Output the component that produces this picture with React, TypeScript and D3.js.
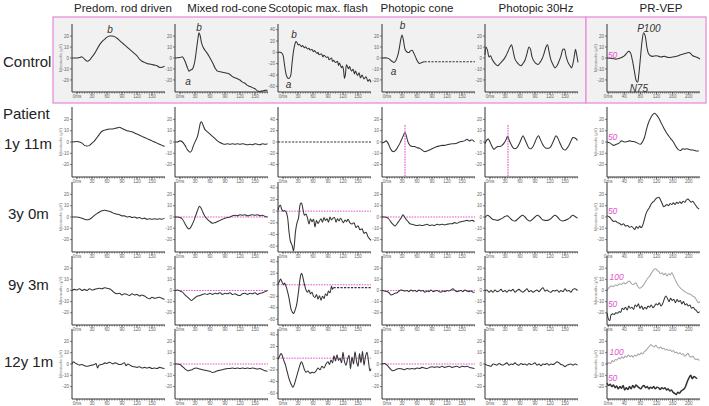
import React from 'react';
import * as d3 from 'd3';

type Pt = [number, number];

// ---- labels & ticks ----
const columnTitles = ['Predom. rod driven', 'Mixed rod-cone', 'Scotopic max. flash', 'Photopic cone', 'Photopic 30Hz', 'PR-VEP'];
const rowLabels = ['Control', 'Patient', '1y 11m', '3y 0m', '9y 3m', '12y 1m'];
const ergTicksX = [0, 30, 60, 90, 120, 150];
const vepTicksX = [0, 40, 80, 120, 160, 200];
const ampTicks = [-20, -10, 0, 10, 20];
const scotTicks = [-60, -40, -20, 0, 20, 40];
const scotTicksFlat = [-40, -20, 0, 20, 40];

// ---- control traces (ms, µV) ----
const ctrlRod: Pt[] = [[-10,0],[0,0],[5,0.5],[10,1],[15,-1],[20,-3],[25,-2],[30,1],[35,4],[40,8],[45,12],[50,15],[55,17],[60,19],[65,20],[70,20],[75,19.5],[80,18],[85,16],[90,14],[95,12],[100,10],[105,8],[110,6],[115,4],[120,2],[125,-1],[130,-3],[135,-4],[140,-5],[145,-5.5],[150,-6],[155,-6.5],[160,-7],[165,-8.5],[170,-8.5],[175,-7.5]];
const ctrlMixed: Pt[] = [[-10,0],[0,0.5],[5,1],[10,-3],[15,-9],[18,-12],[21,-11],[24,-10.5],[27,-8],[30,-2],[33,8],[36,18],[38,23],[40,21],[43,14],[46,10],[50,7],[55,4],[60,0],[65,-4],[70,-9],[75,-12],[80,-12.5],[85,-13],[90,-13.5],[95,-14],[100,-15],[105,-17],[110,-18],[115,-19],[120,-20],[125,-22],[130,-23],[135,-25],[140,-26],[145,-27],[150,-28],[155,-30],[160,-30.5],[165,-30],[170,-29.5],[175,-29.5]];
const ctrlScot: Pt[] = [[-10,0],[-6,0],[-3,-1],[0,-5],[3,-22],[6,-38],[9,-45],[12,-46],[15,-42],[18,-20],[21,2],[24,15],[26,19],[28,17],[31,13],[33,14],[37,10],[39,12],[43,8],[45,10],[49,6],[52,7],[54,4],[58,5],[61,1],[63,3],[68,-2],[70,0],[72,-4],[77,-3],[80,-8],[82,-5],[87,-9],[90,-8],[92,-13],[97,-10],[99,-16],[101,-14],[105,-18],[109,-16],[111,-23],[113,-19],[117,-27],[119,-24],[121,-31],[123,-46],[125,-38],[127,-22],[131,-29],[133,-25],[137,-33],[140,-30],[143,-38],[145,-33],[149,-41],[152,-36],[155,-45],[158,-40],[162,-47],[166,-43],[170,-51],[173,-48],[176,-53]];
const ctrlCone: Pt[] = [[-10,0],[0,0],[5,-1],[10,-3],[14,-4],[18,-2],[22,3],[25,10],[28,18],[30,21],[33,16],[36,8],[40,5.5],[44,5],[47,6.5],[50,7],[53,5],[57,1],[61,-3],[65,-5],[70,-4],[75,-3.5]];
const ctrlConeTail: Pt[] = [[75,-3.5],[176,-3.5]];
const ctrlFlicker: Pt[] = [[-10,3],[-8,10],[-5,7],[-2,1],[1,2],[4,-1],[8,-4],[12,-6],[16,-7],[20,-5],[24,-3],[28,-1],[32,2],[36,6],[40,10],[43,12],[46,7],[50,-1],[54,-4],[58,-6],[62,-7],[66,-5],[70,-2],[74,4],[78,10],[81,8],[84,1],[88,-3],[92,-5],[96,-6],[100,-4],[104,-1],[108,4],[112,10],[115,12],[118,6],[122,-2],[126,-6],[130,-9],[134,-7],[138,-3],[142,2],[146,8],[149,8],[152,2],[156,-4],[160,-7],[163,-9],[166,-5],[169,3],[171,8],[173,4],[176,-4]];
const ctrlVep: Pt[] = [[-3,0],[10,-0.5],[20,-1],[30,0],[40,2],[45,4],[50,6],[55,5],[60,-2],[65,-12],[70,-21],[73,-22],[76,-15],[80,0],[84,15],[88,23],[92,20],[96,10],[100,4],[105,2],[110,1.5],[120,2],[130,1],[140,1.5],[150,0.5],[160,1],[170,1.5],[180,3],[190,4],[200,5],[205,4],[210,2],[218,1],[224,0],[228,-1]];

// ---- patient 1y 11m ----
const r1Rod: Pt[] = [[-10,0],[0,0.5],[5,0],[10,-1],[15,-3],[20,-3.5],[25,-3],[30,-1],[35,1],[40,4],[45,7],[50,9.5],[55,10.5],[60,11],[65,11.5],[70,11.5],[75,12],[80,12.5],[85,13],[90,12],[95,11],[100,10],[105,9.5],[110,9],[115,8],[120,7],[125,6],[130,5],[135,4],[140,3],[145,2],[150,1],[155,0],[160,-1],[165,-2],[170,-3],[175,-4]];
const r1Mixed: Pt[] = [[-10,0],[-5,0],[0,1],[5,0],[10,-3],[15,-7],[20,-9],[23,-8],[27,-3],[31,1],[35,5],[38,11],[41,17],[43,18],[46,15],[50,11],[55,9],[60,7],[65,5],[70,3],[75,1],[80,-0.5],[85,-1.5],[90,-2],[95,-1.5],[100,-2],[105,-1.5],[110,-2],[115,-1.5],[120,-2],[125,-1.5],[130,-2],[135,-2.5],[140,-2],[145,-2.5],[150,-1.5],[155,-2],[160,-2.5],[165,-1.5],[170,-2],[175,-1.5]];
const r1ScotFlat: Pt[] = [[-10,0],[176,0]];
const r1Cone: Pt[] = [[-10,-1],[-5,0],[-2,1],[2,-1],[6,-5],[10,-8],[14,-8.5],[18,-7],[22,-4],[26,-1],[30,3],[33,6],[36,8.5],[39,5],[42,0],[46,-3],[50,-4],[55,-4],[60,-5],[65,-5.5],[70,-7],[75,-8.5],[80,-8],[85,-7],[90,-6],[95,-5],[100,-4],[105,-3.5],[110,-3],[115,-3],[120,-2.5],[125,-2],[130,-1.5],[135,-1.5],[140,-1],[145,0],[150,0.5],[155,1],[160,2.5],[165,1],[170,2],[175,0]];
const r1Flicker: Pt[] = [[-10,-1.5],[-6,2],[-3,2.5],[0,0],[4,-4],[8,-6.5],[12,-5],[16,-4],[20,-4],[24,-3],[28,-1],[32,2],[35,5],[38,2],[42,-2],[46,-5],[50,-6],[54,-5],[58,-2],[62,2],[66,5.5],[70,2],[74,-2],[78,-5.5],[82,-6],[86,-4],[90,0],[94,4],[97,5.5],[100,3],[104,-1],[108,-4],[112,-5.5],[116,-5.5],[120,-5],[124,-2],[128,2],[132,5.5],[135,4],[139,0],[143,-4],[147,-6.5],[151,-7],[155,-5],[159,-2],[163,2],[166,4],[170,3.5],[175,1.5]];
const r1Vep: Pt[] = [[-3,0],[5,-1],[13,-3],[20,-2],[27,-1],[33,1],[40,0],[47,0.5],[53,1],[60,0.5],[67,0],[73,-1],[80,-2],[85,0],[90,4],[95,11],[100,17],[105,21],[110,24],[115,25.5],[120,24],[125,21.5],[130,18],[135,14.5],[140,11],[145,8],[150,5.5],[155,3],[160,1],[165,-2],[170,-5],[175,-7],[180,-7.5],[185,-6],[190,-6.5],[195,-6],[200,-6.5],[205,-7],[210,-7],[215,-7.5],[220,-8],[225,-8]];
const r1ConePeakT = 36;
const r1FlickerPeakT = 35;

// ---- patient 3y 0m ----
const r2Rod: Pt[] = [[-10,0],[0,0],[5,-0.5],[10,-1],[15,-2],[20,-2.5],[25,-2],[30,-0.5],[35,1.5],[40,3],[45,4.5],[50,5.5],[55,6],[60,5.5],[65,5],[70,4],[75,3],[80,2.5],[85,2],[90,1],[95,1],[100,0],[105,0.5],[110,-0.5],[115,0],[120,-1],[125,-0.5],[130,-1.5],[135,-1],[140,-2],[145,-1.5],[150,-2],[155,-1.5],[160,-2],[165,-1.5],[170,-2],[175,-1]];
const r2Mixed: Pt[] = [[-10,0],[-5,0],[0,-0.5],[5,-2],[10,-6],[14,-9],[17,-10.5],[20,-10],[24,-7],[28,-3],[32,2],[36,7],[39,9.5],[42,8],[46,4],[50,0.5],[55,-2],[60,-4],[65,-5.5],[70,-5],[75,-4],[80,-3],[85,-2],[90,-1],[95,-0.5],[100,0],[105,1],[110,1.5],[115,1],[120,2],[125,1.5],[130,2],[135,1],[140,1.5],[145,2],[150,1.5],[155,2],[160,1],[165,1.5],[170,0.5],[175,0]];
const r2Scot: Pt[] = [[-10,2],[-7,9],[-5,10],[-3,4],[0,0],[3,1],[6,-1],[9,-10],[12,-35],[15,-52],[18,-58],[21,-68],[23,-55],[25,-35],[28,-20],[31,-12],[33,5],[35,13],[37,14],[40,3],[43,-7],[46,-5],[49,-12],[52,-22],[55,-13],[58,-18],[61,-14],[64,-27],[67,-16],[70,-21],[73,-17],[76,-13],[79,-19],[82,-11],[85,-16],[88,-13],[91,-19],[94,-10],[97,-15],[100,-12],[103,-11],[106,-19],[109,-13],[112,-17],[115,-12],[118,-16],[121,-20],[124,-15],[127,-18],[130,-14],[134,-20],[138,-22],[142,-20],[146,-28],[150,-25],[154,-32],[158,-30],[162,-38],[166,-36],[170,-44],[173,-47],[176,-50]];
const r2Cone: Pt[] = [[-10,0],[-5,0],[0,-0.5],[4,-2],[8,-4.5],[12,-6.5],[16,-8],[20,-6],[24,-3.5],[28,-1],[32,2],[35,0],[38,-2],[42,-4],[46,-6],[50,-6.5],[55,-7],[60,-7.5],[65,-7],[70,-7.5],[75,-7],[80,-6.5],[85,-7.5],[90,-7],[95,-7.5],[100,-6.5],[105,-7],[110,-6.5],[115,-7],[120,-6.5],[125,-6],[130,-6],[135,-5],[140,-5.5],[145,-4.5],[150,-4],[155,-3.5],[160,-3],[165,-3.5],[170,-3],[175,-4]];
const r2Flicker: Pt[] = [[-10,-0.5],[-5,1.5],[0,0],[5,-2],[10,-2.5],[15,-3],[20,-2],[25,-1],[30,0.5],[35,1],[40,-1],[45,-3],[50,-3.5],[55,-2],[60,0],[65,1.5],[70,0],[75,-2.5],[80,-3.5],[85,-2],[90,0],[95,1.5],[100,0],[105,-2.5],[110,-3],[115,-3],[120,-2],[125,0],[130,1.5],[135,0],[140,-2.5],[145,-3.5],[150,-3],[155,-2],[160,-0.5],[165,1.5],[170,0.5],[175,-1]];
const r2Vep: Pt[] = [[-3,1],[3,0],[8,-2],[13,-4],[18,-3.5],[23,-5],[28,-5.5],[33,-7],[38,-6],[43,-8],[48,-7.5],[53,-9],[58,-8.5],[63,-10],[66,-11],[70,-8.5],[74,-10],[78,-8],[82,-9.5],[86,-7],[90,-2],[94,3],[98,6],[102,8],[106,11],[110,13],[114,14],[118,16],[122,17],[126,17.5],[130,15],[134,12],[138,9],[142,10],[146,11],[150,10],[154,12],[158,11],[162,12.5],[166,11],[170,13],[174,12],[178,13.5],[182,12],[186,14],[190,13],[194,15],[198,16],[202,14.5],[206,13],[210,14],[214,12],[218,10],[222,8],[226,7]];

// ---- patient 9y 3m ----
const r3Rod: Pt[] = [[-10,0],[-5,1],[0,0.5],[5,1.5],[10,0],[15,1],[20,0],[25,1.5],[30,0.5],[35,1],[40,1.5],[45,2],[50,1.5],[55,2.5],[60,2],[65,1.5],[70,0],[75,-2],[80,-3],[85,-2.5],[90,-4],[95,-3],[100,-3.5],[105,-4.5],[110,-3],[115,-4],[120,-3.5],[125,-5],[130,-4],[135,-5],[140,-6.5],[145,-7.5],[150,-6],[155,-7],[160,-6.5],[165,-6],[170,-7],[175,-8]];
const r3Mixed: Pt[] = [[-10,0],[-5,0.5],[0,-0.5],[5,-1.5],[10,-4],[15,-6],[20,-8],[23,-9],[26,-8],[30,-6.5],[35,-5],[40,-4.5],[45,-3.5],[50,-3],[55,-3.5],[60,-2.5],[65,-3.5],[70,-2.5],[75,-3],[80,-2],[85,-3.5],[90,-2.5],[95,-3],[100,-2],[105,-3.5],[110,-3],[115,-4],[120,-4.5],[125,-3],[130,-2.5],[135,-3.5],[140,-2.5],[145,-3],[150,-2],[155,-3.5],[160,-2.5],[165,-2],[170,-1],[175,0]];
const r3Scot: Pt[] = [[-10,1],[-7,6],[-5,10],[-3,7],[-1,3],[1,0],[3,3],[5,0],[7,-5],[9,-12],[11,-19],[13,-28],[15,-38],[17,-45],[19,-48],[21,-50],[23,-47],[25,-42],[27,-36],[29,-25],[31,-12],[33,3],[35,15],[37,20],[39,16],[41,8],[43,0],[46,-9],[49,-13],[52,-9],[55,-16],[58,-13],[61,-20],[64,-22],[67,-17],[70,-25],[73,-19],[76,-27],[79,-20],[82,-24],[85,-16],[88,-19],[91,-11],[94,-14],[97,-2],[99,-8],[101,-5]];
const r3ScotTail: Pt[] = [[101,-5],[176,-5]];
const r3Cone: Pt[] = [[-10,0],[-5,-0.5],[0,-1],[4,-2],[8,-4],[12,-3.5],[16,-2.5],[20,-2],[24,-0.5],[28,0.5],[32,0],[36,-0.5],[40,0],[44,-1],[48,0.5],[52,-0.5],[56,0],[60,-1],[64,0.5],[68,-0.5],[72,0],[76,-1.5],[80,-0.5],[84,-1],[88,0.5],[92,-1],[96,-0.5],[100,0],[104,-1],[108,-1.5],[112,-0.5],[116,-1],[120,0],[124,-0.5],[128,0.5],[132,1.5],[136,0],[140,-1],[144,-0.5],[148,0],[152,-1],[156,0.5],[160,-0.5],[164,-1],[168,-0.5],[172,-1.5],[175,-1.5]];
const r3Flicker: Pt[] = [[-10,-0.5],[-6,0.5],[-2,-1.5],[2,0],[6,-1.5],[10,0.5],[14,-1],[18,-0.5],[22,1],[26,-1],[30,0],[34,-1.5],[38,0.5],[42,-0.5],[46,1],[50,-1.5],[54,0],[58,1],[62,-0.5],[66,-1.5],[70,0],[74,1.5],[78,-1],[82,0],[86,-1.5],[90,-0.5],[94,0.5],[98,-1],[102,1],[106,2.5],[110,-0.5],[114,0.5],[118,-1],[122,-1.5],[126,0],[130,-0.5],[134,0.5],[138,-1.5],[142,0],[146,-1],[150,1.5],[154,-0.5],[158,0],[162,-1.5],[166,1],[170,1.5],[175,0]];
const r3Vep100: Pt[] = [[-3,0],[3,3],[8,4],[13,3.5],[18,5],[23,4.5],[28,6],[33,5.5],[38,7],[43,6],[48,7.5],[53,8.5],[58,6],[63,5.5],[68,7],[73,4],[78,2],[83,3],[88,5],[93,8],[98,11],[103,13],[108,16],[113,18.5],[118,19.5],[122,18],[126,17],[130,15],[134,16],[138,14],[142,15.5],[146,13],[150,15],[154,14],[158,16],[162,13],[166,10],[170,7],[175,4],[180,2],[185,0.5],[190,-1],[195,-2],[200,-3],[205,-3.5],[210,-5],[215,-6],[220,-9],[224,-11],[228,-10]];
const r3Vep50: Pt[] = [[-3,-20],[1,-26],[4,-27],[7,-22],[11,-21],[15,-21.5],[19,-20],[23,-20.5],[27,-19],[31,-19.5],[35,-16],[39,-17],[43,-15],[47,-17.5],[51,-14],[55,-16],[59,-15],[63,-17],[67,-13],[71,-14.5],[75,-12],[79,-16],[83,-14],[87,-17],[91,-15],[95,-16.5],[99,-14],[103,-15],[107,-13],[111,-15.5],[115,-14],[119,-12],[123,-13],[127,-11],[131,-14],[135,-12],[139,-8],[143,-5],[147,-7],[151,-10],[155,-7],[159,-9],[163,-8],[167,-11],[171,-8],[175,-10],[179,-9],[183,-12],[187,-10],[191,-13],[195,-12],[199,-14],[203,-13],[207,-16],[211,-15],[215,-17],[219,-18],[223,-20],[227,-19]];

// ---- patient 12y 1m ----
const r4Rod: Pt[] = [[-10,0],[-7,2],[-4,1],[0,0],[5,-1],[10,-0.5],[15,-1.5],[20,-2],[25,-1.5],[30,-1],[35,-0.5],[38,0.5],[41,-3.5],[44,-1],[48,-0.5],[52,0],[56,1],[60,0.5],[64,1.5],[68,1],[72,0],[76,1],[80,0.5],[85,-0.5],[90,0],[95,1],[98,-1.5],[102,0],[106,-1],[110,-2],[115,-2.5],[120,-3],[125,-2.5],[130,-3.5],[135,-3],[140,-3.5],[145,-3],[150,-4],[155,-3.5],[160,-4],[165,-3],[170,-3.5],[175,-4]];
const r4Mixed: Pt[] = [[-10,0],[-5,0],[0,-0.5],[4,-2],[8,-3.5],[12,-5],[16,-6],[20,-5.5],[24,-5],[28,-4],[32,-3.5],[36,-4],[40,-4.5],[45,-5],[50,-5.5],[55,-6],[60,-6.5],[65,-7.5],[70,-7],[75,-6],[80,-5.5],[85,-5],[90,-4.5],[95,-4],[100,-4],[105,-3.5],[110,-4],[115,-3.5],[120,-4],[125,-3.5],[130,-4],[135,-3.5],[140,-4],[145,-3.5],[150,-4],[155,-4.5],[160,-4],[165,-5],[170,-6],[175,-6.5]];
const r4Scot: Pt[] = [[-10,-2],[-7,3],[-4,8],[-2,6],[0,0],[2,-5],[5,-12],[8,-22],[11,-32],[14,-40],[17,-46],[20,-50],[23,-44],[26,-35],[29,-26],[32,-17],[35,-9],[37,-6],[40,-12],[43,-20],[46,-24],[50,-22],[54,-26],[58,-24],[62,-25],[66,-22],[70,-17],[74,-20],[78,-14],[82,-17],[86,-10],[90,-6],[93,-11],[96,-3],[99,-8],[102,4],[105,-5],[108,6],[111,-4],[114,0],[117,-8],[120,10],[123,-6],[126,-12],[129,-2],[132,5],[135,-18],[138,2],[141,-10],[144,11],[147,-5],[150,-14],[153,8],[156,-8],[159,12],[162,-12],[165,3],[168,10],[171,-6],[174,-22],[176,-18]];
const r4Cone: Pt[] = [[-10,0],[-5,0.5],[0,-1],[4,-3],[8,-5],[12,-6],[16,-5.5],[20,-4.5],[25,-4],[30,-4.5],[35,-5],[40,-4],[45,-4.5],[50,-4],[55,-4.5],[60,-3.5],[65,-4],[70,-3],[75,-3.5],[80,-4],[85,-3],[90,-2.5],[95,-3],[100,-2.5],[105,-3],[110,-2],[115,-3],[120,-2.5],[125,-2],[130,-3],[135,-2.5],[140,-2],[145,-3],[150,-2],[155,-2.5],[160,-2],[165,-3],[170,-3.5],[175,-4]];
const r4Flicker: Pt[] = [[-10,0],[-6,-1],[-2,-1.5],[2,-2],[6,0],[10,-0.5],[14,-1],[18,0.5],[22,-0.5],[26,-1],[30,0],[34,1],[38,-1],[42,0],[46,-0.5],[50,1],[54,-0.5],[58,-1],[62,0.5],[66,-0.5],[70,0],[74,-1],[78,0.5],[82,-0.5],[86,0],[90,1],[94,-1],[98,0],[102,-1.5],[106,0],[110,-0.5],[114,0.5],[118,-1],[122,0],[126,-0.5],[130,0.5],[134,2],[138,1],[142,-0.5],[146,-1],[150,-2.5],[154,-1],[158,-0.5],[162,0],[166,-1],[170,0],[175,-1]];
const r4Vep100: Pt[] = [[-3,0],[2,1],[6,0.5],[10,3],[14,2],[18,4],[22,3.5],[26,5.5],[30,4.5],[34,6.5],[38,5],[42,7],[46,6],[50,8],[54,6.5],[58,7.5],[62,6],[66,8],[70,7],[74,9],[78,8],[82,10],[86,9],[90,11],[94,12],[98,14],[102,15.5],[106,17],[110,16],[114,15],[118,16.5],[122,15],[126,14],[130,15],[134,13.5],[138,14],[142,12.5],[146,13],[150,12],[154,12.5],[158,11],[162,12],[166,10],[170,10.5],[174,9],[178,10],[182,8.5],[186,9],[190,7],[194,8],[198,9.5],[202,7],[206,6],[210,7],[214,5],[218,4],[222,4.5],[226,3]];
const r4Vep50: Pt[] = [[-3,-17],[1,-19],[5,-18],[9,-20],[13,-18.5],[17,-21],[21,-19.5],[25,-22],[29,-20],[33,-21.5],[37,-19],[41,-23],[45,-21],[49,-22.5],[53,-20],[57,-22],[61,-19],[65,-21],[69,-18.5],[73,-20],[77,-21],[81,-22],[85,-20],[89,-19],[93,-21],[97,-20],[101,-22],[105,-20.5],[109,-21.5],[113,-20],[117,-22],[121,-20.5],[125,-21],[129,-22.5],[133,-21],[137,-22],[141,-21],[145,-23],[149,-22],[153,-24],[157,-23],[161,-25],[165,-26],[169,-27],[173,-25],[177,-26],[181,-24],[185,-23],[189,-22],[193,-19],[197,-15],[201,-12],[205,-10],[209,-13],[213,-11],[217,-12],[221,-13]];

// ---- layout ----
const ROW_TOP = [24, 107, 182, 256, 329];
const ROW_H = [68, 70, 70, 69, 70];
const COL_X = [72, 175, 278, 382, 485, 607];
const COL_W = 93;
const ERG_T: [number, number] = [-10, 176];
const VEP_T: [number, number] = [-3, 228];
const PINK = '#e553d3';
const INK = '#333';
const GREY = '#a3a3a3';
const FONT = '"Liberation Sans", Arial, sans-serif';

interface Trace { data: Pt[]; color?: string; width?: number; dash?: string }
interface Note { text: string; t: number; v: number; pink?: boolean }
interface Spec {
  row: number; col: number; traces: Trace[];
  yDomain?: [number, number]; yTicks?: number[];
  zero?: boolean; marker?: number; notes?: Note[];
}

const Panel: React.FC<{ spec: Spec }> = ({ spec }) => {
  const { row, col } = spec;
  const x0 = COL_X[col];
  const top = ROW_TOP[row];
  const h = ROW_H[row];
  const isVep = col === 5;
  const x = d3.scaleLinear().domain(isVep ? VEP_T : ERG_T).range([x0, x0 + COL_W]);
  const y = d3.scaleLinear().domain(spec.yDomain || [-31, 31]).range([top + h, top]);
  const yTicks = spec.yTicks || ampTicks;
  const xTicks = isVep ? vepTicksX : ergTicksX;
  const xMax = isVep ? VEP_T[1] : ERG_T[1];
  const minor = d3.range(0, xMax, 5);
  const line = d3.line<Pt>().x(d => x(d[0])).y(d => y(d[1])).curve(d3.curveCatmullRom.alpha(0.5));
  const axisY = top + h;
  const tickFont = 4.6;

  return (
    <g>
      {spec.zero && (
        <line x1={x0} x2={x0 + COL_W} y1={y(0)} y2={y(0)} stroke={PINK} strokeWidth={1} strokeDasharray="1.6,1.1" />
      )}
      {spec.traces.map((tr, i) => (
        <path key={i} d={line(tr.data) || ''} fill="none" stroke={tr.color || INK}
          strokeWidth={tr.width || 1.05} strokeDasharray={tr.dash} strokeLinejoin="round" />
      ))}
      {spec.marker !== undefined && (
        <line x1={Math.round(x(spec.marker))} x2={Math.round(x(spec.marker))} y1={y(15)} y2={axisY}
          stroke={PINK} strokeWidth={1.1} strokeDasharray="1.6,1" />
      )}
      {/* y axis */}
      <line x1={x0} x2={x0} y1={top} y2={axisY} stroke="#333" strokeWidth={1} />
      {yTicks.map(t => (
        <g key={t}>
          <line x1={x0 - 2} x2={x0} y1={y(t)} y2={y(t)} stroke="#333" strokeWidth={0.6} />
          <text x={x0 - 3} y={y(t)} dy="0.35em" textAnchor="end" fontSize={tickFont} fill="#666" fontFamily={FONT}>{t}</text>
        </g>
      ))}
      {(col === 0 || col === 5) && (
        <text transform={`translate(${x0 - 10},${top + h / 2}) rotate(-90)`} textAnchor="middle"
          fontSize={4.2} fill="#777" fontFamily={FONT}>Microvolts (µV)</text>
      )}
      {/* x axis */}
      <line x1={x0} x2={x0 + COL_W} y1={axisY} y2={axisY} stroke="#333" strokeWidth={1} />
      {minor.map(t => (
        <line key={t} x1={x(t)} x2={x(t)} y1={axisY} y2={axisY + 1.6} stroke="#333" strokeWidth={0.5} />
      ))}
      {xTicks.map((t, i) => (
        <g key={t}>
          <line x1={x(t)} x2={x(t)} y1={axisY} y2={axisY + 2.4} stroke="#333" strokeWidth={0.6} />
          <text x={x(t)} y={axisY + 6.2} textAnchor="middle" fontSize={tickFont} fill="#666" fontFamily={FONT}>
            {i === 0 ? '0ms' : t}
          </text>
        </g>
      ))}
      {(spec.notes || []).map((n, i) => (
        <text key={i} x={x(n.t)} y={y(n.v)} dy="0.35em" textAnchor="middle" fontStyle="italic"
          fontSize={n.pink ? 8.5 : 10} fill={n.pink ? PINK : '#333'} fontFamily={FONT}>{n.text}</text>
      ))}
    </g>
  );
};

const App: React.FC = () => {
  const scotDomain: [number, number] = [-70, 50];
  const dash = '2.2,1.3';
  const specs: Spec[] = [
    { row: 0, col: 0, traces: [{ data: ctrlRod }], notes: [{ text: 'b', t: 66, v: 26 }] },
    { row: 0, col: 1, traces: [{ data: ctrlMixed }], notes: [{ text: 'b', t: 38, v: 28 }, { text: 'a', t: 16, v: -21 }] },
    { row: 0, col: 2, traces: [{ data: ctrlScot }], yDomain: scotDomain, yTicks: scotTicks, notes: [{ text: 'b', t: 22, v: 31 }, { text: 'a', t: 11, v: -57 }] },
    { row: 0, col: 3, traces: [{ data: ctrlCone }, { data: ctrlConeTail, dash }], notes: [{ text: 'b', t: 31, v: 30 }, { text: 'a', t: 13, v: -12.5 }] },
    { row: 0, col: 4, traces: [{ data: ctrlFlicker }] },
    { row: 0, col: 5, traces: [{ data: ctrlVep }], notes: [{ text: 'P100', t: 101, v: 27 }, { text: 'N75', t: 76, v: -27.5 }, { text: '50', t: 11, v: 3, pink: true }] },

    { row: 1, col: 0, traces: [{ data: r1Rod }] },
    { row: 1, col: 1, traces: [{ data: r1Mixed }] },
    { row: 1, col: 2, traces: [{ data: r1ScotFlat, dash }], yDomain: [-62, 62], yTicks: scotTicksFlat },
    { row: 1, col: 3, traces: [{ data: r1Cone }], marker: r1ConePeakT },
    { row: 1, col: 4, traces: [{ data: r1Flicker }], marker: r1FlickerPeakT },
    { row: 1, col: 5, traces: [{ data: r1Vep }], notes: [{ text: '50', t: 11, v: 4.5, pink: true }] },

    { row: 2, col: 0, traces: [{ data: r2Rod }] },
    { row: 2, col: 1, traces: [{ data: r2Mixed }], zero: true },
    { row: 2, col: 2, traces: [{ data: r2Scot }], yDomain: scotDomain, yTicks: scotTicks, zero: true },
    { row: 2, col: 3, traces: [{ data: r2Cone }], zero: true },
    { row: 2, col: 4, traces: [{ data: r2Flicker }] },
    { row: 2, col: 5, traces: [{ data: r2Vep }], notes: [{ text: '50', t: 11, v: 5, pink: true }] },

    { row: 3, col: 0, traces: [{ data: r3Rod }] },
    { row: 3, col: 1, traces: [{ data: r3Mixed }], zero: true },
    { row: 3, col: 2, traces: [{ data: r3Scot }, { data: r3ScotTail, dash }], yDomain: scotDomain, yTicks: scotTicks, zero: true },
    { row: 3, col: 3, traces: [{ data: r3Cone }], zero: true },
    { row: 3, col: 4, traces: [{ data: r3Flicker }] },
    { row: 3, col: 5, traces: [{ data: r3Vep100, color: GREY }, { data: r3Vep50 }], notes: [{ text: '100', t: 21, v: 12, pink: true }, { text: '50', t: 11, v: -12.5, pink: true }] },

    { row: 4, col: 0, traces: [{ data: r4Rod }] },
    { row: 4, col: 1, traces: [{ data: r4Mixed }], zero: true },
    { row: 4, col: 2, traces: [{ data: r4Scot }], yDomain: scotDomain, yTicks: scotTicks, zero: true },
    { row: 4, col: 3, traces: [{ data: r4Cone }], zero: true },
    { row: 4, col: 4, traces: [{ data: r4Flicker }] },
    { row: 4, col: 5, traces: [{ data: r4Vep100, color: GREY }, { data: r4Vep50, width: 1.5 }], notes: [{ text: '100', t: 21, v: 10.5, pink: true }, { text: '50', t: 11, v: -12.5, pink: true }] },
  ];

  const titleX = [123, 227, 318, 417, 536, 661];
  const labelPos: [number, number][] = [[3, 67], [3, 119], [4, 149], [8, 219], [8, 290], [4, 367]];

  return (
    <svg width={709} height={406} style={{ position: 'absolute', left: 0, top: 0, background: '#fff' }}>
      <rect x={53} y={17} width={533} height={86} fill="#f1f1f1" stroke="#ea8fdc" strokeWidth={1.3} />
      <rect x={586} y={17} width={120} height={86} fill="#f1f1f1" stroke="#ea8fdc" strokeWidth={1.3} />
      {columnTitles.map((t, i) => (
        <text key={t} x={titleX[i]} y={12} textAnchor="middle" fontSize={11.5} fill="#222" fontFamily={FONT}>{t}</text>
      ))}
      {rowLabels.map((t, i) => (
        <text key={t} x={labelPos[i][0]} y={labelPos[i][1]} fontSize={15} fill="#222" fontFamily={FONT}>{t}</text>
      ))}
      {specs.map((s, i) => <Panel key={i} spec={s} />)}
    </svg>
  );
};

export default App;
